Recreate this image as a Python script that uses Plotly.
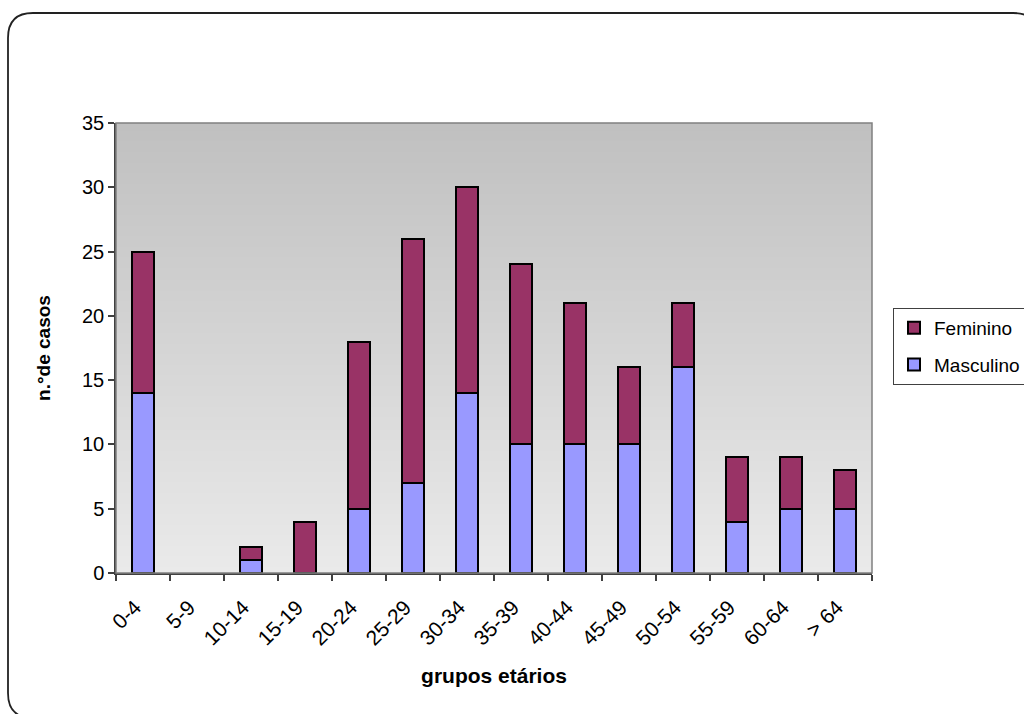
import base64
import struct
import zlib

import plotly.graph_objects as go

# Age groups and case counts by sex
grupos = ["0-4", "5-9", "10-14", "15-19", "20-24", "25-29", "30-34",
          "35-39", "40-44", "45-49", "50-54", "55-59", "60-64", "> 64"]
masculino = [14, 0, 1, 0, 5, 7, 14, 10, 10, 10, 16, 4, 5, 5]
feminino = [11, 0, 1, 4, 13, 19, 16, 14, 11, 6, 5, 5, 4, 3]

W, H = 1024, 714
ML, MR, MT, MB = 116, 152, 123, 141
PW, PH = W - ML - MR, H - MT - MB


def gradient_png(top, bottom, n=256):
    """Tiny 1-pixel-wide vertical gradient PNG as a data URI."""
    raw = b""
    for i in range(n):
        t = i / (n - 1)
        c = [round(top[k] + (bottom[k] - top[k]) * t) for k in range(3)]
        raw += b"\x00" + bytes(c)

    def chunk(tag, data):
        body = tag + data
        return struct.pack(">I", len(data)) + body + struct.pack(">I", zlib.crc32(body) & 0xFFFFFFFF)

    png = b"\x89PNG\r\n\x1a\n"
    png += chunk(b"IHDR", struct.pack(">IIBBBBB", 1, n, 8, 2, 0, 0, 0))
    png += chunk(b"IDAT", zlib.compress(raw))
    png += chunk(b"IEND", b"")
    return "data:image/png;base64," + base64.b64encode(png).decode()


def px(x):
    return (x - ML) / PW


def py(y):
    return (H - MB - y) / PH


def outline(values):
    # no outline on empty segments, so zero-height bars stay invisible
    return [0 if v == 0 else 2 for v in values]


fig = go.Figure()
fig.add_trace(go.Bar(
    x=grupos, y=masculino, name="Masculino", legendgroup="m", legendrank=2,
    marker=dict(color="#9999FF", line=dict(color="#000000", width=outline(masculino))),
))
fig.add_trace(go.Bar(
    x=grupos, y=feminino, name="Feminino", legendgroup="f", legendrank=1,
    marker=dict(color="#993366", line=dict(color="#000000", width=outline(feminino))),
))

# Rounded outer frame of the chart
l, t, r, b, rad = 8, 13, 1038, 718, 25
frame = (
    f"M {px(l + rad)},{py(t)} L {px(r - rad)},{py(t)} "
    f"Q {px(r)},{py(t)} {px(r)},{py(t + rad)} "
    f"L {px(r)},{py(b - rad)} Q {px(r)},{py(b)} {px(r - rad)},{py(b)} "
    f"L {px(l + rad)},{py(b)} Q {px(l)},{py(b)} {px(l)},{py(b - rad)} "
    f"L {px(l)},{py(t + rad)} Q {px(l)},{py(t)} {px(l + rad)},{py(t)} Z"
)

fig.update_layout(
    width=W, height=H,
    margin=dict(l=ML, r=MR, t=MT, b=MB, pad=0, autoexpand=False),
    barmode="stack",
    bargap=0.58,
    paper_bgcolor="#FFFFFF",
    plot_bgcolor="#D6D6D6",
    font=dict(family="Liberation Sans, Arial, sans-serif", size=19, color="#000000"),
    showlegend=True,
    legend=dict(
        x=px(893), y=py(308), xanchor="left", yanchor="top",
        traceorder="grouped",
        bgcolor="#FFFFFF", bordercolor="#404040", borderwidth=1,
        font=dict(size=19),
        itemwidth=30,
        tracegroupgap=9,
    ),
    images=[dict(
        source=gradient_png((192, 192, 192), (234, 234, 234)),
        xref="paper", yref="paper", x=0, y=1, sizex=1, sizey=1,
        xanchor="left", yanchor="top", sizing="stretch", layer="below",
    )],
    shapes=[
        dict(type="rect", xref="paper", yref="paper", x0=0, y0=0, x1=1, y1=1,
             line=dict(color="#808080", width=1.5), layer="above"),
        dict(type="path", xref="paper", yref="paper", path=frame,
             line=dict(color="#222222", width=1.8)),
    ],
)

fig.update_xaxes(
    type="category",
    tickangle=-45,
    ticks="outside", tickson="boundaries", ticklen=6, tickwidth=1.5, tickcolor="#404040",
    showline=True, linecolor="#404040", linewidth=1.5,
    showgrid=False,
    tickfont=dict(size=21),
    ticklabelstandoff=12,
    ticklabelshift=-8,
    automargin=False,
    title=dict(text="<b>grupos etários</b>", font=dict(size=21), standoff=20),
)
fig.update_yaxes(
    range=[0, 35], dtick=5,
    ticks="outside", ticklen=6, tickwidth=1.5, tickcolor="#404040",
    showline=True, linecolor="#404040", linewidth=1.5,
    showgrid=False, zeroline=False,
    tickfont=dict(size=20),
    automargin=False,
    title=dict(text="<b>n.°de casos</b>", font=dict(size=19), standoff=26),
)

fig.write_html("out.html")
